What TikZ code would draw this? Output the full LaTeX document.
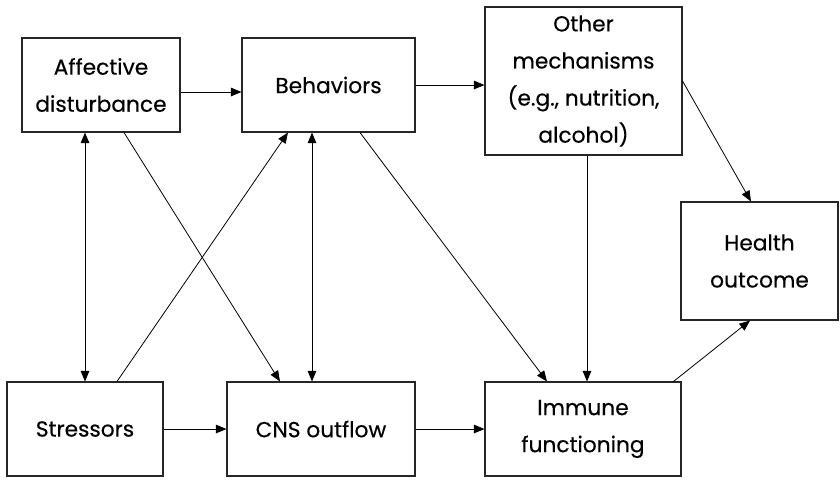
\documentclass[tikz,border=0pt]{standalone}
\usepackage{fontspec}
\setmainfont{Poppins}[FakeBold=0.4]
\usetikzlibrary{arrows.meta,calc}
\begin{document}
\begin{tikzpicture}[x=0.75pt,y=-0.75pt,
  box/.style={draw=black!85,line width=0.8pt,rectangle,align=center,inner sep=0pt,
    font=\fontsize{16.3}{27.8}\selectfont},
  arr/.style={line width=0.6pt,-{Triangle[length=8pt,width=6.5pt]}},
  darr/.style={line width=0.6pt,{Triangle[length=8pt,width=6.5pt]}-{Triangle[length=8pt,width=6.5pt]}}]
\useasboundingbox (0,0) rectangle (840,480);
\node[box,minimum width=118.5pt,minimum height=70.5pt] (aff) at (101,85) {Affective\\disturbance};
\node[box,minimum width=129.75pt,minimum height=70.5pt] (beh) at (328.5,85) {Behaviors};
\node[box,minimum width=147.75pt,minimum height=111pt] (oth) at (583.5,81) {Other\\mechanisms\\(e.g., nutrition,\\alcohol)};
\node[box,minimum width=117.75pt,minimum height=88.5pt] (hea) at (759.5,261) {Health\\outcome};
\node[box,minimum width=117pt,minimum height=70.5pt] (str) at (85,429) {Stressors};
\node[box,minimum width=141pt,minimum height=70.5pt] (cns) at (321,429) {CNS outflow};
\node[box,minimum width=147pt,minimum height=70.5pt] (imm) at (583,429) {Immune\\functioning};
\coordinate (bc) at (312,0);
\coordinate (oc) at (587,0);
\draw[arr] ([yshift=-5.25pt]aff.east) -- ([yshift=-5.25pt]aff.east -| beh.west);
\draw[arr] (beh.east) -- (beh.east -| oth.west);
\draw[arr] (oth.east) -- ([xshift=-6.4pt]hea.north);
\draw[darr] (str.north |- aff.south) -- (str.north);
\draw[arr] ([xshift=17.25pt]aff.south) -- ([xshift=-30.75pt]cns.north);
\draw[arr] ([xshift=24pt]str.north) -- ([xshift=-30.4pt]beh.south);
\draw[darr] (bc |- beh.south) -- (bc |- cns.north);
\draw[arr] ([xshift=23.6pt]beh.south) -- ([xshift=-27pt]imm.north);
\draw[arr] (oc |- oth.south) -- (oc |- imm.north);
\draw[arr] ([xshift=-6pt]imm.north east) -- ([xshift=-7.1pt]hea.south);
\draw[arr] (str.east) -- (cns.west);
\draw[arr] (cns.east) -- (imm.west);
\end{tikzpicture}
\end{document}
